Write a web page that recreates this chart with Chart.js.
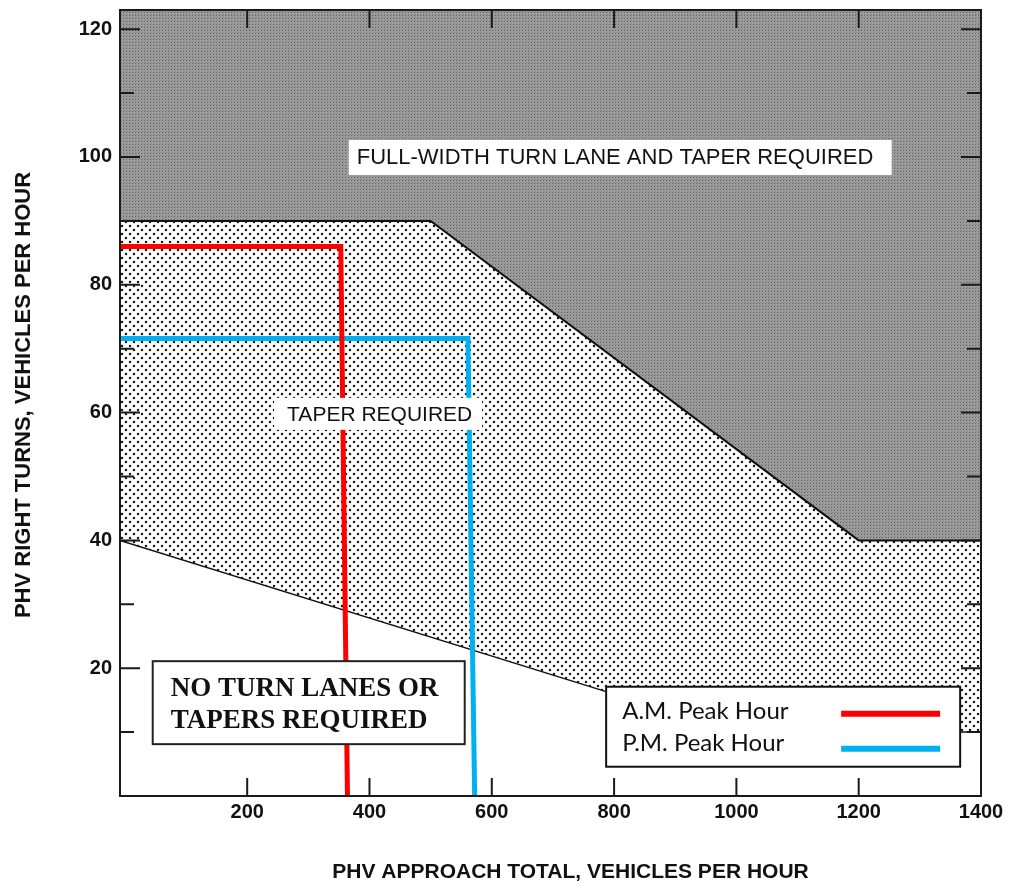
<!DOCTYPE html>
<html lang="en">
<head>
<meta charset="UTF-8">
<title>PHV right turn lane guidelines</title>
<script src="https://cdn.jsdelivr.net/npm/chart.js@4/dist/chart.umd.min.js"></script>
<style>
  body { margin: 0; background: #fff; }
</style>
</head>
<body>
<canvas id="chart" width="1021" height="886"></canvas>
<script>
// values
const xTicks = [200, 400, 600, 800, 1000, 1200, 1400];
const yTicks = [20, 40, 60, 80, 100, 120];
const yMinorTicks = [10, 30, 50, 70, 90, 110];

// boundary of the "full-width turn lane" zone (starts at the left frame)
const fullWidthX = [-8, 500, 1200, 1400];
const fullWidthY = [90, 90, 40, 40];
// boundary of the "taper required" zone
const taperX = [-8, 1000, 1400];
const taperY = [40, 10, 10];
// peak hour traces
const amX = [-8, 353, 364];
const amY = [86, 86, 0];
const pmX = [-8, 561, 572];
const pmY = [71.6, 71.6, 0];

const seriesNames = ['A.M. Peak Hour', 'P.M. Peak Hour'];

function pts(xs, ys) {
  return xs.map((v, i) => ({ x: v, y: ys[i] }));
}

function makePattern(size, bg, draw) {
  const c = document.createElement('canvas');
  c.width = size; c.height = size;
  const g = c.getContext('2d');
  g.fillStyle = bg;
  g.fillRect(0, 0, size, size);
  draw(g);
  return document.getElementById('chart').getContext('2d').createPattern(c, 'repeat');
}

const dotPattern = makePattern(8, '#ffffff', g => {
  g.fillStyle = '#1a1a1a';
  [[2, 2], [6, 6]].forEach(([a, b]) => {
    g.beginPath(); g.arc(a, b, 1.25, 0, Math.PI * 2); g.fill();
  });
});
const darkPattern = makePattern(3, '#9c9c9c', g => {
  g.fillStyle = '#606060';
  g.fillRect(0, 0, 1, 1);
  g.fillStyle = '#868686';
  g.fillRect(1, 2, 1, 1);
});

const frame = {
  id: 'frame',
  afterDatasetsDraw(chart) {
    const { ctx, chartArea: a, scales: { x, y } } = chart;
    ctx.save();
    ctx.strokeStyle = '#1a1a1a';
    ctx.lineWidth = 2;
    ctx.strokeRect(a.left, a.top, a.right - a.left, a.bottom - a.top);
    ctx.beginPath();
    xTicks.forEach(v => {
      const px = x.getPixelForValue(v);
      if (px >= a.right - 1) return;
      ctx.moveTo(px, a.bottom); ctx.lineTo(px, a.bottom - 18);
      ctx.moveTo(px, a.top); ctx.lineTo(px, a.top + 18);
    });
    yTicks.forEach(v => {
      const py = y.getPixelForValue(v);
      ctx.moveTo(a.left, py); ctx.lineTo(a.left + 20, py);
      ctx.moveTo(a.right, py); ctx.lineTo(a.right - 20, py);
    });
    yMinorTicks.forEach(v => {
      const py = y.getPixelForValue(v);
      ctx.moveTo(a.left, py); ctx.lineTo(a.left + 14, py);
      ctx.moveTo(a.right, py); ctx.lineTo(a.right - 14, py);
    });
    ctx.stroke();
    ctx.restore();
  }
};

const labels = {
  id: 'labels',
  afterDraw(chart) {
    const { ctx, chartArea: a, scales: { x, y } } = chart;
    ctx.save();
    ctx.textBaseline = 'middle';

    // full-width zone label
    let bx = x.getPixelForValue(366), by = y.getPixelForValue(100);
    ctx.fillStyle = '#fff';
    ctx.fillRect(bx, by - 17, 543, 35);
    ctx.fillStyle = '#111';
    ctx.font = '22px "Liberation Sans", Arial, sans-serif';
    ctx.fillText('FULL-WIDTH TURN LANE AND TAPER REQUIRED', bx + 8, by + 1);

    // taper zone label
    bx = x.getPixelForValue(244); by = y.getPixelForValue(59.8);
    ctx.fillStyle = '#fff';
    ctx.fillRect(bx, by - 16, 208, 32);
    ctx.fillStyle = '#111';
    ctx.font = '21px "Liberation Sans", Arial, sans-serif';
    ctx.fillText('TAPER REQUIRED', bx + 13, by + 1);

    // no turn lane zone label
    bx = x.getPixelForValue(45.5); by = y.getPixelForValue(21.1);
    ctx.fillStyle = '#fff';
    ctx.fillRect(bx, by, 312, 83);
    ctx.strokeStyle = '#222';
    ctx.lineWidth = 2;
    ctx.strokeRect(bx, by, 312, 83);
    ctx.fillStyle = '#111';
    ctx.font = 'bold 27px "Liberation Serif", "Times New Roman", serif';
    ctx.fillText('NO TURN LANES OR', bx + 18, by + 28);
    ctx.fillText('TAPERS REQUIRED', bx + 18, by + 60);

    // legend
    bx = x.getPixelForValue(787); by = y.getPixelForValue(17.1);
    ctx.fillStyle = '#fff';
    ctx.fillRect(bx, by, 354, 80);
    ctx.strokeStyle = '#111';
    ctx.strokeRect(bx, by, 354, 80);
    ctx.font = '24px Lato, "Open Sans", sans-serif';
    chart.data.datasets.slice(0, 2).forEach((ds, i) => {
      const ty = by + 25 + i * 32;
      ctx.fillStyle = '#111';
      ctx.fillText(ds.label, bx + 16, ty);
      ctx.strokeStyle = ds.borderColor;
      ctx.lineWidth = 6;
      ctx.beginPath();
      ctx.moveTo(bx + 235, ty + 2 + i * 3);
      ctx.lineTo(bx + 334, ty + 2 + i * 3);
      ctx.stroke();
    });

    // axis titles
    ctx.fillStyle = '#111';
    ctx.font = 'bold 21px "Liberation Sans", Arial, sans-serif';
    ctx.textAlign = 'center';
    ctx.fillText('PHV APPROACH TOTAL, VEHICLES PER HOUR', (a.left + a.right) / 2 + 20, 872);
    ctx.font = 'bold 22px "Liberation Sans", Arial, sans-serif';
    ctx.translate(24, (a.top + a.bottom) / 2 - 8);
    ctx.rotate(-Math.PI / 2);
    ctx.fillText('PHV RIGHT TURNS, VEHICLES PER HOUR', 0, 0);
    ctx.restore();
  }
};

const tickFont = { family: '"Liberation Sans", Arial, sans-serif', size: 20, weight: 'bold' };

new Chart(document.getElementById('chart'), {
  type: 'line',
  data: {
    datasets: [
      { label: seriesNames[0], data: pts(amX, amY), borderColor: '#ff0000', borderWidth: 5, fill: false },
      { label: seriesNames[1], data: pts(pmX, pmY), borderColor: '#00b0f0', borderWidth: 5, fill: false },
      { label: 'full', data: pts(fullWidthX, fullWidthY), borderColor: '#111', borderWidth: 2, fill: 'end', backgroundColor: darkPattern },
      { label: 'taper', data: pts(taperX, taperY), borderColor: '#111', borderWidth: 1.5, fill: 'end', backgroundColor: dotPattern }
    ]
  },
  options: {
    responsive: false,
    animation: false,
    elements: { point: { radius: 0 }, line: { tension: 0, borderCapStyle: 'butt' } },
    layout: { padding: { top: 10, right: 40, left: 0, bottom: 0 } },
    plugins: { legend: { display: false }, tooltip: { enabled: false } },
    scales: {
      x: {
        type: 'linear',
        min: -8,
        max: 1400,
        afterBuildTicks: s => { s.ticks = xTicks.map(v => ({ value: v })); },
        afterFit: s => { s.height = 90; s.paddingLeft = 0; s.paddingRight = 0; },
        grid: { display: false, drawTicks: false },
        border: { display: false },
        ticks: { font: tickFont, color: '#111', padding: 4, maxRotation: 0, callback: v => String(v) }
      },
      y: {
        min: 0,
        max: 123,
        afterBuildTicks: s => { s.ticks = yTicks.map(v => ({ value: v })); },
        afterFit: s => { s.width = 120; s.paddingTop = 0; s.paddingBottom = 0; },
        grid: { display: false, drawTicks: false },
        border: { display: false },
        ticks: { font: tickFont, color: '#111', padding: 8, callback: v => String(v) }
      }
    }
  },
  plugins: [frame, labels]
});
</script>
</body>
</html>
